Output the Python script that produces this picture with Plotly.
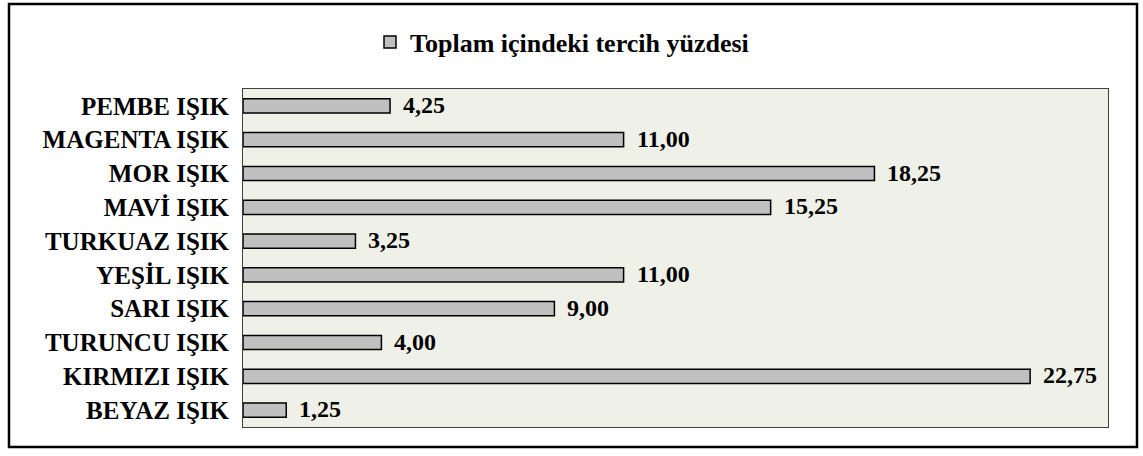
import plotly.graph_objects as go

categories = ["BEYAZ IŞIK", "KIRMIZI IŞIK", "TURUNCU IŞIK", "SARI IŞIK", "YEŞİL IŞIK",
              "TURKUAZ IŞIK", "MAVİ IŞIK", "MOR IŞIK", "MAGENTA IŞIK", "PEMBE IŞIK"]
values = [1.25, 22.75, 4.00, 9.00, 11.00, 3.25, 15.25, 18.25, 11.00, 4.25]
series_name = "Toplam içindeki tercih yüzdesi"

labels = [f"{v:.2f}".replace(".", ",") for v in values]
FONT = "Liberation Serif, Times New Roman, serif"

W, H = 1143, 456
L, R, T, B = 243, 35, 89, 29
pw, ph = W - L - R, H - T - B

fig = go.Figure()
fig.add_trace(go.Bar(
    x=values, y=categories, orientation="h", name=f"<b>{series_name}</b>",
    marker=dict(color="#C0C0C0", line=dict(color="black", width=1.5)),
    showlegend=True,
))

# value labels to the right of each bar
for c, v, t in zip(categories, values, labels):
    fig.add_annotation(x=v, y=c, text=f"<b>{t}</b>", showarrow=False,
                       xanchor="left", yanchor="middle", xshift=11, yshift=1,
                       font=dict(family=FONT, size=24, color="black"))

# outer frame around the whole chart
def px_x(p):
    return (p - L) / pw

def px_y(p):
    return (H - B - p) / ph

fig.add_shape(type="rect", xref="paper", yref="paper",
              x0=px_x(9), x1=px_x(1137), y0=px_y(447), y1=px_y(4),
              line=dict(color="black", width=2.5), fillcolor="rgba(0,0,0,0)")

fig.update_layout(
    width=W, height=H,
    margin=dict(l=L, r=R, t=T, b=B),
    paper_bgcolor="white",
    plot_bgcolor="#EFF1E8",
    bargap=0.58,
    font=dict(family=FONT, size=24, color="black"),
    xaxis=dict(range=[0, 25], showticklabels=False, showgrid=False, zeroline=False,
               showline=True, mirror=True, linecolor="#404040", linewidth=1, ticks=""),
    yaxis=dict(showgrid=False, zeroline=False, showline=True, mirror=True,
               linecolor="#404040", linewidth=1, ticks="", ticklabelstandoff=8,
               tickfont=dict(family=FONT, size=25, color="black"),
               tickprefix="<b>", ticksuffix="</b>",
               categoryorder="array", categoryarray=categories),
    legend=dict(orientation="h", x=px_x(370), xanchor="left", y=px_y(42), yanchor="middle",
                font=dict(family=FONT, size=26, color="black"),
                bgcolor="rgba(0,0,0,0)", itemwidth=30),
)

fig.write_html("out.html")
